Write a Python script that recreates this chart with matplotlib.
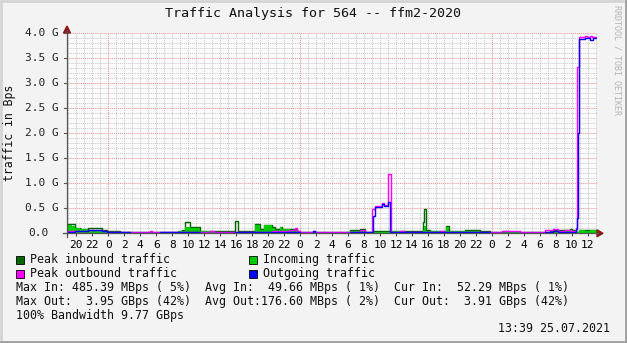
import matplotlib
matplotlib.use('Agg')
import matplotlib.pyplot as plt
import matplotlib.transforms as mtransforms
from matplotlib.patches import Rectangle
from matplotlib.lines import Line2D

W, H = 627, 343
FONT = 'DejaVu Sans Mono'

# Time axis: hours since midnight 23.07.2021, traffic in GBps
t_start, t_end = -5.17, 61.16

# Incoming traffic (average, filled area)
in_t = [-5.17, -5.04, -4.5, -4.17, -3.54, -2.54, -0.83, -0.2, 1.46, 2.72, 5.22, 6.47,
        8.72, 9.22, 9.6, 10.23, 11.48, 12.73, 18.36, 18.99, 19.49, 20.49, 20.86, 21.49,
        21.74, 22.74, 23.62, 23.99, 27.75, 30.25, 31.5, 32.13, 33.09, 35.26, 36.51,
        39.35, 39.51, 39.76, 40.26, 42.26, 42.64, 44.64, 46.52, 47.77, 55.65, 57.15,
        58.53, 58.91, 59.66, 60.29]
in_v = [0.12, 0.17, 0.15, 0.10, 0.08, 0.07, 0.05, 0.03, 0.02, 0.03, 0.02, 0.03,
        0.04, 0.05, 0.13, 0.10, 0.04, 0.03, 0.17, 0.06, 0.16, 0.10, 0.07, 0.12,
        0.08, 0.07, 0.04, 0.01, 0.02, 0.04, 0.05, 0.02, 0.03, 0.04, 0.03,
        0.06, 0.14, 0.05, 0.04, 0.12, 0.04, 0.05, 0.03, 0.02, 0.04, 0.05,
        0.02, 0.06, 0.05, 0.06]

# Peak inbound traffic (line)
pin_t = [-5.17, -5.04, -4.17, -3.54, -2.54, -0.83, -0.2, 1.46, 8.72, 9.22, 9.6, 10.23,
         11.48, 12.73, 15.86, 16.2, 18.36, 18.99, 19.49, 20.49, 20.86, 21.49, 21.74,
         22.74, 23.62, 23.99, 27.75, 30.25, 31.5, 32.13, 33.09, 36.51, 39.35, 39.51,
         39.76, 40.26, 42.26, 42.64, 44.64, 46.52, 47.77, 49.27, 50.27, 55.27, 55.65,
         57.78, 58.03, 58.53, 58.91]
pin_v = [0.14, 0.18, 0.11, 0.09, 0.10, 0.06, 0.04, 0.03, 0.05, 0.06, 0.22, 0.12,
         0.05, 0.04, 0.24, 0.04, 0.18, 0.08, 0.17, 0.12, 0.09, 0.13, 0.09,
         0.08, 0.05, 0.02, 0.03, 0.06, 0.09, 0.03, 0.04, 0.05, 0.23, 0.48,
         0.07, 0.05, 0.14, 0.05, 0.07, 0.04, 0.03, 0.05, 0.03, 0.04, 0.06,
         0.09, 0.06, 0.03, 0.07]

# Outgoing traffic (average, line)
out_t = [-5.17, -4.17, -2.54, -0.83, -0.2, 2.72, 6.47, 9.6, 11.48, 15.86, 20.49, 22.74,
         23.99, 25.62, 25.87, 30.25, 33.09, 33.38, 34.22, 34.5, 35.04, 35.26, 37.76,
         41.51, 44.64, 46.52, 47.77, 54.65, 55.65, 56.28, 58.53, 58.7, 58.79, 58.85,
         58.91, 59.66, 60.29, 60.66]
out_v = [0.03, 0.04, 0.06, 0.04, 0.02, 0.01, 0.02, 0.02, 0.01, 0.02, 0.03, 0.02,
         0.01, 0.04, 0.01, 0.02, 0.35, 0.53, 0.58, 0.55, 0.63, 0.02, 0.03,
         0.02, 0.03, 0.02, 0.01, 0.03, 0.05, 0.03, 0.08, 0.30, 2.00, 3.33,
         3.88, 3.90, 3.87, 3.90]

# Peak outbound traffic (line)
pout_t = [-5.17, -2.54, -0.83, -0.2, 2.72, 5.22, 5.5, 9.6, 12.73, 13.2, 20.49, 22.74,
          23.37, 23.62, 23.99, 25.62, 25.87, 30.25, 31.5, 32.13, 32.97, 33.38, 34.22,
          34.5, 35.0, 35.38, 36.51, 37.0, 41.51, 42.0, 49.27, 51.52, 54.65, 55.65,
          56.28, 57.15, 57.78, 58.53, 58.7, 58.85, 59.66, 59.9, 60.29, 60.5]
pout_v = [0.04, 0.07, 0.05, 0.03, 0.02, 0.04, 0.02, 0.03, 0.05, 0.03, 0.05, 0.06,
          0.10, 0.04, 0.02, 0.05, 0.02, 0.03, 0.07, 0.03, 0.49, 0.55, 0.60,
          0.57, 1.18, 0.03, 0.05, 0.03, 0.05, 0.03, 0.04, 0.03, 0.07, 0.09,
          0.05, 0.07, 0.05, 0.10, 3.33, 3.93, 3.95, 3.92, 3.95, 3.92]

hour_ticks = list(range(-4, 61, 2))
hour_labels = [str(h % 24) for h in hour_ticks]
y_ticks = [0.0, 0.5, 1.0, 1.5, 2.0, 2.5, 3.0, 3.5, 4.0]
y_labels = ['0.0', '0.5 G', '1.0 G', '1.5 G', '2.0 G', '2.5 G', '3.0 G', '3.5 G', '4.0 G']

legend_rows = [
    ('Peak inbound traffic', '#006600', 'Incoming traffic', '#00cc00'),
    ('Peak outbound traffic', '#ff00ff', 'Outgoing traffic', '#0000ff'),
]
stats_lines = [
    'Max In: 485.39 MBps ( 5%)  Avg In:  49.66 MBps ( 1%)  Cur In:  52.29 MBps ( 1%)',
    'Max Out:  3.95 GBps (42%)  Avg Out:176.60 MBps ( 2%)  Cur Out:  3.91 GBps (42%)',
    '100% Bandwidth 9.77 GBps',
]
stamp = '13:39 25.07.2021'


def fx(x):
    return x / W


def fy(y):
    return 1 - y / H


def ext(t, v):
    # carry the last sample to the right edge
    return t + [t_end], v + [v[-1]]


def fig_line(xs, ys, **kw):
    fig.lines.append(Line2D(xs, ys, transform=fig.transFigure, **kw))


fig = plt.figure(figsize=(W / 100, H / 100), dpi=100, facecolor='#f3f3f3')
ax = fig.add_axes([fx(67), fy(233.3), (597 - 67) / W, 200 / H])
ax.set_facecolor('#fbfbfb')
ax.set_xlim(t_start, t_end)
ax.set_ylim(0, 4.0)
for s in ax.spines.values():
    s.set_visible(False)

# grid
for h in range(-5, 62):
    if h % 24 == 0:
        continue
    ax.axvline(h, color='#c8c8c8', lw=0.7, ls=(0, (1, 1)), zorder=0)
for v in [i / 10 for i in range(1, 41)]:
    if round(v * 10) % 5 == 0:
        continue
    ax.axhline(v, color='#c8c8c8', lw=0.7, ls=(0, (1, 1)), zorder=0)
for h in [0, 24, 48]:
    ax.axvline(h, color='#e89090', lw=0.7, ls=(0, (1, 1)), zorder=0.5)
for v in [0.5, 1.0, 1.5, 2.0, 2.5, 3.0, 3.5, 4.0]:
    ax.axhline(v, color='#e89090', lw=0.7, ls=(0, (1, 1)), zorder=0.5)

# data
t, v = ext(pin_t, pin_v)
ax.step(t, v, where='post', color='#006600', lw=1.0, zorder=2)
t, v = ext(in_t, in_v)
ax.fill_between(t, v, step='post', color='#00cc00', lw=0, zorder=3)
t, v = ext(pout_t, pout_v)
ax.step(t, v, where='post', color='#ff00ff', lw=1.0, zorder=4)
t, v = ext(out_t, out_v)
ax.step(t, v, where='post', color='#0000ff', lw=1.0, zorder=5)

# x ticks
ax.set_xticks(hour_ticks)
ax.set_xticklabels(hour_labels, fontfamily=FONT, fontsize=8)
ax.tick_params(axis='x', length=2, width=0.8, color='#444444', pad=3)
ax.set_yticks([])

# y tick labels (right aligned in the figure margin)
blend = mtransforms.blended_transform_factory(fig.transFigure, ax.transData)
for val, lab in zip(y_ticks, y_labels):
    xr = 48.5 if lab == '0.0' else 58.5
    ax.text(fx(xr), val, lab, transform=blend, ha='right', va='center',
            fontfamily=FONT, fontsize=8, color='#222222', clip_on=False)

# axes lines and arrows
ax_col = '#555555'
fig_line([fx(63), fx(598)], [fy(233.3), fy(233.3)], color=ax_col, lw=0.9)
fig_line([fx(67), fx(67)], [fy(237), fy(30)], color=ax_col, lw=0.9)
for yv in y_ticks:
    yp = 233.3 - yv * 50
    fig_line([fx(64), fx(67)], [fy(yp), fy(yp)], color=ax_col, lw=0.8)
fig.patches.append(plt.Polygon([(fx(597), fy(229.8)), (fx(603), fy(233.3)), (fx(597), fy(236.8))],
                               closed=True, color='#8b1a1a', transform=fig.transFigure))
fig.patches.append(plt.Polygon([(fx(63.5), fy(33)), (fx(67), fy(26)), (fx(70.5), fy(33))],
                               closed=True, color='#8b1a1a', transform=fig.transFigure))

# titles
fig.text(fx(313), fy(13), 'Traffic Analysis for 564 -- ffm2-2020', ha='center', va='center',
         fontfamily=FONT, fontsize=9.6, color='#111111')
fig.text(fx(10), fy(133), 'traffic in Bps', ha='center', va='center', rotation=90,
         fontfamily=FONT, fontsize=8.3, color='#111111')
fig.text(fx(617), fy(5), 'RRDTOOL / TOBI OETIKER', ha='center', va='top', rotation=270,
         fontfamily=FONT, fontsize=6, color='#b4b4b4')

# legend
for i, (l1, c1, l2, c2) in enumerate(legend_rows):
    yc = 259.5 + i * 14
    for bx, tx, lab, col in [(16, 30, l1, c1), (248.5, 263, l2, c2)]:
        fig.patches.append(Rectangle((fx(bx), fy(yc + 4)), 8 / W, 8 / H, transform=fig.transFigure,
                                     facecolor=col, edgecolor='#000000', lw=0.6))
        fig.text(fx(tx), fy(yc), lab, ha='left', va='center', fontfamily=FONT,
                 fontsize=8.4, color='#111111')
for i, line in enumerate(stats_lines):
    fig.text(fx(16), fy(287.5 + i * 14), line, ha='left', va='center', fontfamily=FONT,
             fontsize=8.4, color='#111111')
fig.text(fx(610), fy(328.5), stamp, ha='right', va='center', fontfamily=FONT,
         fontsize=8.4, color='#111111')

# frame around the image
fig_line([0.002, 0.002, 0.998], [0.0, 0.997, 0.997], color='#d4d4d4', lw=2)
fig_line([0.998, 0.998, 0.002], [0.997, 0.003, 0.003], color='#a0a0a0', lw=2)

fig.savefig('out.png', dpi=100, facecolor=fig.get_facecolor())
